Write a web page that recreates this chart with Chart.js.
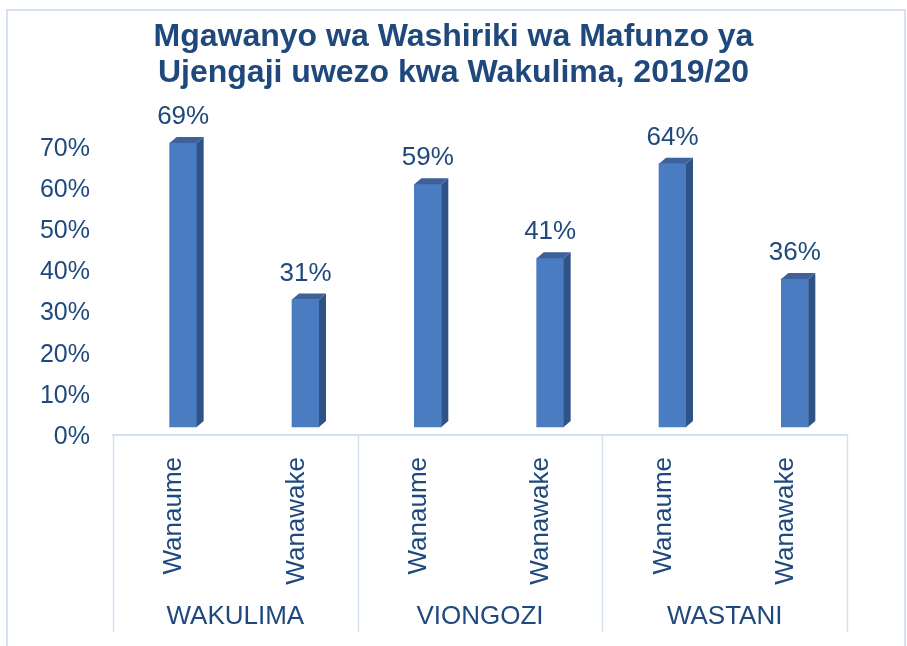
<!DOCTYPE html>
<html><head><meta charset="utf-8">
<script src="https://cdn.jsdelivr.net/npm/chart.js@4.4.1/dist/chart.umd.min.js"></script>
<style>html,body{margin:0;padding:0;background:#fff}#wrap{width:907px;height:646px;position:relative}</style>
</head><body><div id="wrap"><canvas id="c" width="907" height="646"></canvas></div>
<script>
const titleLines = ['Mgawanyo wa Washiriki wa Mafunzo ya', 'Ujengaji uwezo kwa Wakulima, 2019/20'];
const categories = ['Wanaume', 'Wanawake', 'Wanaume', 'Wanawake', 'Wanaume', 'Wanawake'];
const groups = ['WAKULIMA', 'VIONGOZI', 'WASTANI'];
const values = [69, 31, 59, 41, 64, 36];
const yMin = 0, yMax = 70, yStep = 10;

const TXT = '#1F497D';
const FAM = "'Liberation Sans', Arial, sans-serif";
const LINE = '#D5E1F0';
const DX = 9, DY = -8, DEPTH_X = 7, DEPTH_Y = -6;

const frame = {
  id: 'frame',
  beforeDraw(chart) {
    const c = chart.ctx;
    c.save();
    c.fillStyle = '#fff';
    c.fillRect(0, 0, chart.width, chart.height);
    c.strokeStyle = LINE;
    c.lineWidth = 2;
    c.strokeRect(7, 10, 898, 700);
    c.restore();
  },
  afterDraw(chart) {
    const c = chart.ctx, xs = chart.scales.x;
    const w = xs.getPixelForValue(1) - xs.getPixelForValue(0);
    c.save();
    c.strokeStyle = LINE;
    c.lineWidth = 1.5;
    for (let i = 0; i <= categories.length; i += 2) {
      const x = Math.round(xs.getPixelForValue(0) + (i - 0.5) * w) + 0.5;
      c.beginPath();
      c.moveTo(x, chart.chartArea.bottom);
      c.lineTo(x, 632);
      c.stroke();
    }
    c.restore();
  }
};

const bar3d = {
  id: 'bar3d',
  beforeDatasetsDraw(chart) {
    chart.ctx.save();
    chart.ctx.translate(DX, DY);
  },
  afterDatasetsDraw(chart) {
    const c = chart.ctx;
    const meta = chart.getDatasetMeta(0);
    meta.data.forEach((el, i) => {
      const p = el.getProps(['x', 'y', 'base', 'width'], true);
      const l = p.x - p.width / 2, r = p.x + p.width / 2;
      c.fillStyle = '#2F5386';
      c.beginPath();
      c.moveTo(r, p.y);
      c.lineTo(r + DEPTH_X, p.y + DEPTH_Y);
      c.lineTo(r + DEPTH_X, p.base + DEPTH_Y);
      c.lineTo(r, p.base);
      c.closePath();
      c.fill();
      c.fillStyle = '#3D6198';
      c.beginPath();
      c.moveTo(l, p.y);
      c.lineTo(l + DEPTH_X, p.y + DEPTH_Y);
      c.lineTo(r + DEPTH_X, p.y + DEPTH_Y);
      c.lineTo(r, p.y);
      c.closePath();
      c.fill();
      c.fillStyle = TXT;
      c.font = '26px ' + FAM;
      c.textAlign = 'center';
      c.textBaseline = 'middle';
      c.fillText(values[i] + '%', p.x, p.y - 26);
    });
    c.restore();
  }
};

function frontFill(ctx) {
  const chart = ctx.chart;
  const el = chart.getDatasetMeta(0).data[ctx.dataIndex];
  if (!chart.chartArea || !el || isNaN(el.x)) return '#4A7CC2';
  const g = chart.ctx.createLinearGradient(el.x - 14, 0, el.x + 14, 0);
  g.addColorStop(0, '#5E8DCC');
  g.addColorStop(0.5, '#4A7DC4');
  g.addColorStop(1, '#3E6CB0');
  return g;
}

new Chart(document.getElementById('c'), {
  type: 'bar',
  data: {
    labels: categories,
    datasets: [{
      data: values,
      backgroundColor: frontFill,
      borderWidth: 0,
      barThickness: 27,
      clip: false
    }]
  },
  options: {
    responsive: false,
    animation: false,
    layout: { padding: { top: 10, right: 0, bottom: 0, left: 0 } },
    plugins: {
      legend: { display: false },
      tooltip: { enabled: false },
      title: {
        display: true,
        text: titleLines,
        color: TXT,
        font: { family: FAM, size: 32, weight: 'bold', lineHeight: 1.1 },
        padding: { top: 10, bottom: 56.6 }
      }
    },
    scales: {
      x: {
        type: 'category',
        position: 'bottom',
        offset: true,
        grid: { display: false, drawTicks: false },
        border: { display: true, color: LINE, width: 2 },
        ticks: { color: TXT, font: { family: FAM, size: 26 }, minRotation: 90, maxRotation: 90, autoSkip: false, padding: 22 },
        afterFit(s) { s.height = 160; }
      },
      x2: {
        type: 'category',
        axis: 'x',
        position: 'bottom',
        labels: groups,
        offset: true,
        grid: { display: false, drawTicks: false },
        border: { display: false },
        ticks: { color: TXT, font: { family: FAM, size: 26 }, maxRotation: 0, autoSkip: false, padding: 6 },
        afterFit(s) { s.height = 51; }
      },
      y: {
        min: yMin,
        max: yMax,
        grid: { display: false, drawTicks: false },
        border: { display: false },
        ticks: { stepSize: yStep, color: TXT, font: { family: FAM, size: 25 }, padding: 23, labelOffset: 2, callback: v => v + '%' },
        afterFit(s) { s.width = 113; }
      },
      yR: {
        type: 'linear',
        axis: 'y',
        position: 'right',
        grid: { display: false, drawTicks: false },
        border: { display: false },
        ticks: { display: false },
        afterFit(s) { s.width = 60; }
      }
    }
  },
  plugins: [frame, bar3d]
});
</script>
</body></html>
